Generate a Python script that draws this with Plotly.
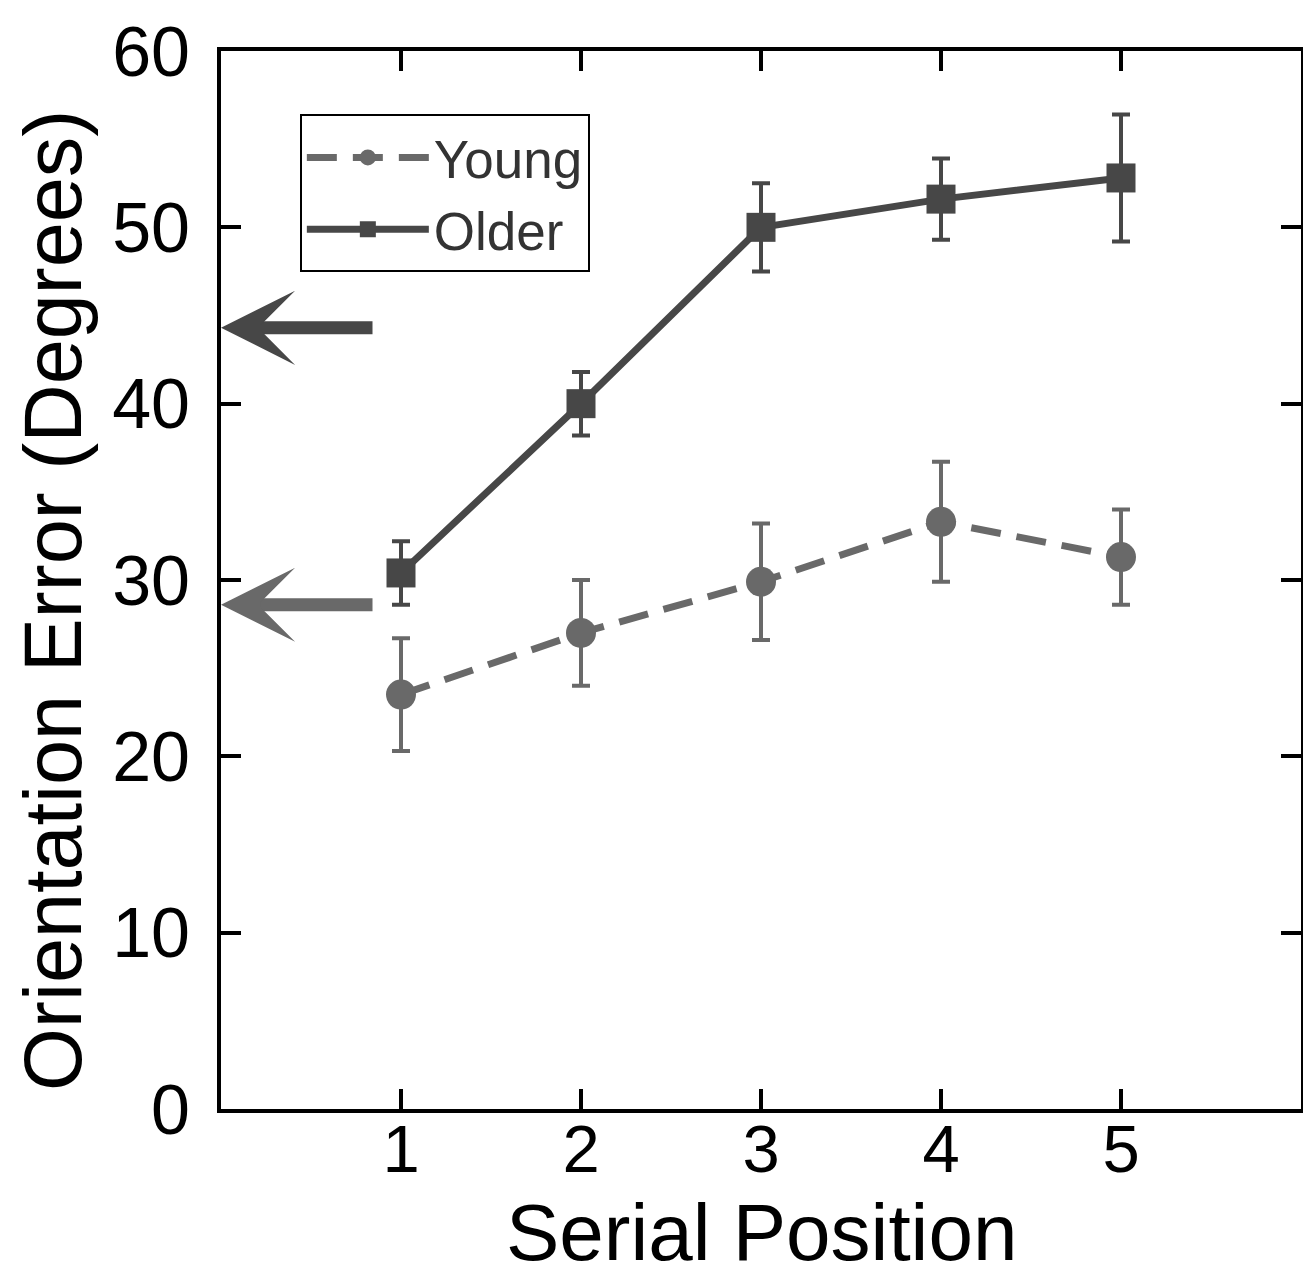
import plotly.graph_objects as go

# ---- data ----
serial_position = [1, 2, 3, 4, 5]
young_mean = [23.5, 27.0, 29.9, 33.3, 31.3]
young_err = [3.2, 3.0, 3.3, 3.4, 2.7]
older_mean = [30.4, 40.0, 50.0, 51.6, 52.8]
older_err = [1.8, 1.8, 2.5, 2.3, 3.6]
# baseline levels marked by arrows on the y axis (older, young)
arrow_levels = [44.3, 28.6]
arrow_tail_x = 0.85

x_ticks = [1, 2, 3, 4, 5]
y_ticks = [0, 10, 20, 30, 40, 50, 60]

FONT = "Liberation Sans, Arial, sans-serif"
DARK = "#474747"
LIGHT = "#696969"

fig = go.Figure()

fig.add_trace(go.Scatter(
    x=serial_position, y=young_mean, name="Young",
    mode="lines+markers",
    line=dict(color=LIGHT, width=7, dash="30px,16px"),
    marker=dict(symbol="circle", size=30, color=LIGHT),
    error_y=dict(type="data", array=young_err, visible=True,
                 color=LIGHT, thickness=4, width=9),
))
fig.add_trace(go.Scatter(
    x=serial_position, y=older_mean, name="Older",
    mode="lines+markers",
    line=dict(color=DARK, width=7),
    marker=dict(symbol="square", size=29, color=DARK),
    error_y=dict(type="data", array=older_err, visible=True,
                 color=DARK, thickness=4, width=9),
))

for lvl, col in zip(arrow_levels, [DARK, LIGHT]):
    fig.add_annotation(
        x=0, y=lvl, ax=arrow_tail_x, ay=lvl,
        xref="x", yref="y", axref="x", ayref="y",
        text="", showarrow=True, arrowhead=3, arrowsize=0.95,
        arrowwidth=13, arrowcolor=col,
    )

# axis titles as annotations for exact placement
fig.add_annotation(
    text="Serial Position", xref="paper", yref="paper",
    x=0.5, y=-0.117, xanchor="center", yanchor="middle",
    showarrow=False, font=dict(family=FONT, size=80, color="black"),
)
fig.add_annotation(
    text="Orientation Error (Degrees)", xref="paper", yref="paper",
    x=-0.1556, y=0.481, xanchor="center", yanchor="middle", textangle=-90,
    showarrow=False, font=dict(family=FONT, size=81, color="black"),
)

axis_common = dict(
    showline=True, linecolor="black", linewidth=4, mirror="ticks",
    ticks="inside", ticklen=20, tickwidth=4, tickcolor="black",
    showgrid=False, zeroline=False, automargin=False,
)

fig.update_xaxes(
    range=[0, 6], tickvals=x_ticks, ticktext=[str(v) for v in x_ticks],
    tickfont=dict(family=FONT, size=67, color="black"),
    ticklabelstandoff=-21,
    **axis_common,
)
fig.update_yaxes(
    range=[0, 60], tickvals=y_ticks, ticktext=[str(v) for v in y_ticks],
    tickfont=dict(family=FONT, size=70, color="black"),
    ticklabelstandoff=13,
    **axis_common,
)

# the page body adds a small offset, so the figure is slightly smaller than the window
fig.update_layout(
    width=1303, height=1266,
    margin=dict(l=213, r=10, t=43, b=165),
    paper_bgcolor="white", plot_bgcolor="white",
    showlegend=True,
    legend=dict(
        x=0.073, y=0.94, xanchor="left", yanchor="top",
        bgcolor="white", bordercolor="black", borderwidth=2,
        font=dict(family=FONT, size=53, color="#333333"),
        itemwidth=122, tracegroupgap=0,
    ),
)

fig.write_html("out.html")
